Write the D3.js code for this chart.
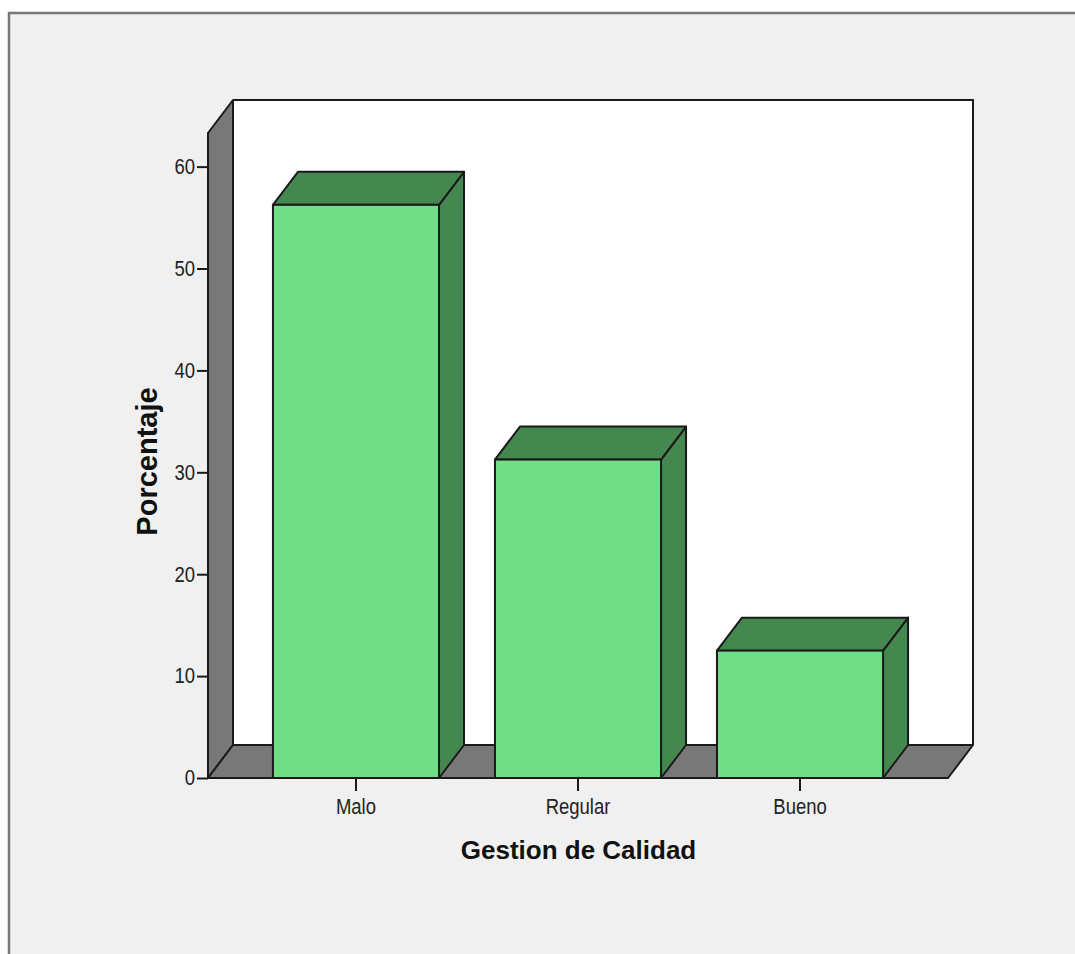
<!DOCTYPE html>
<html>
<head>
<meta charset="utf-8">
<script src="https://cdn.jsdelivr.net/npm/d3@7"></script>
<style>
  html, body { margin: 0; padding: 0; background: #ffffff; }
  svg { display: block; }
</style>
</head>
<body>
<svg id="chart" width="1075" height="954"></svg>
<script>
// Percentages per quality-management rating
const categories = ["Malo", "Regular", "Bueno"];
const percentages = [56.25, 31.25, 12.5];
const yTicks = [0, 10, 20, 30, 40, 50, 60];
const yAxisTitle = "Porcentaje";
const xAxisTitle = "Gestion de Calidad";

(function () {
  const W = 1075, H = 954;
  const svg = d3.select("#chart");

  // Plot box (front plane) and 3D depth offset
  const plotLeft = 208, plotRight = 948, plotBottom = 778, plotTop = 133;
  const depthX = 25, depthY = -33;
  const yMax = 63.3;

  const y = d3.scaleLinear().domain([0, yMax]).range([plotBottom, plotTop]);
  const x = d3.scaleBand().domain(categories).range([plotLeft, plotRight])
    .paddingInner(0.252).paddingOuter(0.2925);

  const wallFill = "#787878";
  const edge = "#1a1a1a";
  const frontFill = "#70de86";
  const shadeFill = "#448850";
  const textColor = "#222";
  const tickFont = "'Liberation Sans', Arial, sans-serif";
  const titleFont = "'Liberation Sans', Arial, sans-serif";
  const tickSize = "18.5px";
  const tickStretch = 1.15; // tall, narrow tick lettering

  // Outer panel
  svg.append("rect").attr("x", 9).attr("y", 13).attr("width", W).attr("height", H)
    .attr("fill", "#f0f0f0");
  svg.append("path").attr("d", `M9,${H} L9,13 L${W},13`)
    .attr("fill", "none").attr("stroke", "#777").attr("stroke-width", 2.5);

  const pts = a => a.map(p => p.join(",")).join(" ");

  // Back wall
  svg.append("rect")
    .attr("x", plotLeft + depthX).attr("y", plotTop + depthY)
    .attr("width", plotRight - plotLeft).attr("height", plotBottom - plotTop)
    .attr("fill", "#ffffff");
  svg.append("path")
    .attr("d", `M${plotLeft + depthX},${plotTop + depthY} L${plotRight + depthX},${plotTop + depthY} L${plotRight + depthX},${plotBottom + depthY}`)
    .attr("fill", "none").attr("stroke", edge).attr("stroke-width", 2);

  // Left side wall
  svg.append("polygon")
    .attr("points", pts([[plotLeft, plotBottom], [plotLeft, plotTop], [plotLeft + depthX, plotTop + depthY], [plotLeft + depthX, plotBottom + depthY]]))
    .attr("fill", wallFill).attr("stroke", edge).attr("stroke-width", 2).attr("stroke-linejoin", "round");

  // Floor
  svg.append("polygon")
    .attr("points", pts([[plotLeft, plotBottom], [plotLeft + depthX, plotBottom + depthY], [plotRight + depthX, plotBottom + depthY], [plotRight, plotBottom]]))
    .attr("fill", wallFill).attr("stroke", edge).attr("stroke-width", 2).attr("stroke-linejoin", "round");

  // Bars: side, top, then front face
  const bars = svg.append("g").selectAll("g")
    .data(categories.map((c, i) => ({ c, v: percentages[i] })))
    .join("g");

  bars.append("polygon")
    .attr("points", d => {
      const x1 = x(d.c) + x.bandwidth();
      return pts([[x1, plotBottom], [x1, y(d.v)], [x1 + depthX, y(d.v) + depthY], [x1 + depthX, plotBottom + depthY]]);
    })
    .attr("fill", shadeFill).attr("stroke", edge).attr("stroke-width", 2).attr("stroke-linejoin", "round");

  bars.append("polygon")
    .attr("points", d => {
      const x0 = x(d.c), x1 = x0 + x.bandwidth(), yt = y(d.v);
      return pts([[x0, yt], [x0 + depthX, yt + depthY], [x1 + depthX, yt + depthY], [x1, yt]]);
    })
    .attr("fill", shadeFill).attr("stroke", edge).attr("stroke-width", 2).attr("stroke-linejoin", "round");

  bars.append("rect")
    .attr("x", d => x(d.c)).attr("y", d => y(d.v))
    .attr("width", x.bandwidth()).attr("height", d => plotBottom - y(d.v))
    .attr("fill", frontFill).attr("stroke", edge).attr("stroke-width", 2);

  // Front floor edge (axis line)
  svg.append("line").attr("x1", plotLeft).attr("x2", plotRight).attr("y1", plotBottom).attr("y2", plotBottom)
    .attr("stroke", edge).attr("stroke-width", 2);

  // Y axis
  const yTickLen = 11, yPad = 2;
  const yAxis = svg.append("g").attr("transform", `translate(${plotLeft},0)`)
    .call(d3.axisLeft(y).tickValues(yTicks).tickFormat(d3.format("d")).tickSize(yTickLen).tickPadding(yPad));
  yAxis.select(".domain").remove();
  yAxis.selectAll(".tick line").attr("stroke", edge).attr("stroke-width", 2);
  yAxis.selectAll(".tick text")
    .attr("x", 0)
    .attr("transform", `translate(${-(yTickLen + yPad)},0) scale(1,${tickStretch})`)
    .attr("fill", textColor)
    .style("font-family", tickFont).style("font-size", tickSize);

  // X axis
  const xTickLen = 13, xPad = 8;
  const xAxis = svg.append("g").attr("transform", `translate(0,${plotBottom})`)
    .call(d3.axisBottom(x).tickSize(xTickLen).tickPadding(xPad));
  xAxis.select(".domain").remove();
  xAxis.selectAll(".tick line").attr("stroke", edge).attr("stroke-width", 2);
  xAxis.selectAll(".tick text")
    .attr("y", 0)
    .attr("transform", `translate(0,${xTickLen + xPad}) scale(1,${tickStretch})`)
    .attr("fill", textColor)
    .style("font-family", tickFont).style("font-size", tickSize);

  // Axis titles
  svg.append("text")
    .attr("transform", "translate(156.5,461.5) rotate(-90)")
    .attr("text-anchor", "middle")
    .attr("fill", "#111")
    .style("font-family", titleFont).style("font-weight", "bold").style("font-size", "29px")
    .text(yAxisTitle);

  svg.append("text")
    .attr("x", 578.5).attr("y", 859)
    .attr("text-anchor", "middle")
    .attr("fill", "#111")
    .style("font-family", titleFont).style("font-weight", "bold").style("font-size", "26px")
    .text(xAxisTitle);
})();
</script>
</body>
</html>
